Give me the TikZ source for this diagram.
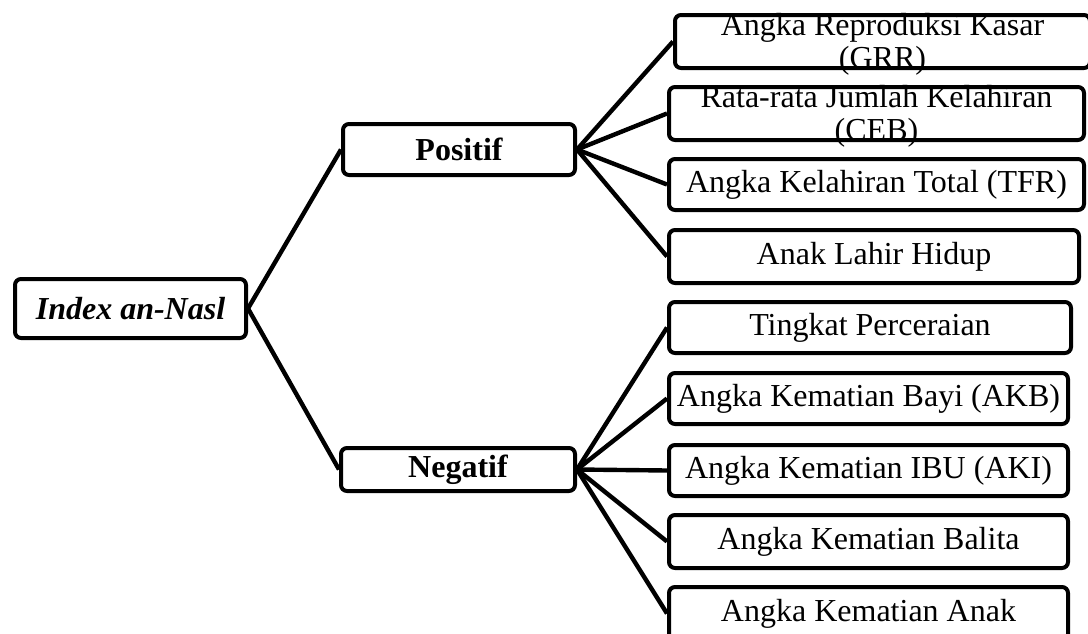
\documentclass[tikz,border=0pt]{standalone}
\usepackage{fontspec}
\setmainfont{Liberation Serif}
\begin{document}
\begin{tikzpicture}[x=0.5pt,y=-0.5pt,
  box/.style={draw, line width=2pt, rounded corners=3pt, inner sep=0pt,
    font=\fontsize{16}{16}\selectfont, align=center},
  lbl/.style={inner sep=0pt, font=\fontsize{16}{16.5}\selectfont, align=center},
  link/.style={line width=2.2pt}]
\useasboundingbox (0,0) rectangle (1088,633);

% root and the two branches
\node[box, minimum width=115.5pt, minimum height=29.5pt, font=\fontsize{16}{16}\selectfont\bfseries\itshape]
  (root) at (130.5,308.5) {Index an-Nasl};
\node[box, minimum width=116pt, minimum height=25.5pt, font=\fontsize{16}{16}\selectfont\bfseries]
  (pos) at (459,149.5) {Positif};
\node[box, minimum width=117pt, minimum height=21.5pt, font=\fontsize{16}{16}\selectfont\bfseries]
  (neg) at (458,469.5) {Negatif};

% positive indicators
\node[box, minimum width=207.5pt, minimum height=26.5pt] (grr) at (882.5,41.5) {};
\node[lbl] (grrtext) at ([yshift=-1.5pt]grr.center) {Angka Reproduksi Kasar\\(GRR)};
\node[box, minimum width=207.5pt, minimum height=26.5pt] (ceb) at (876.5,113.5) {};
\node[lbl] (cebtext) at ([yshift=-1.5pt]ceb.center) {Rata-rata Jumlah Kelahiran\\(CEB)};
\node[box, minimum width=207.5pt, minimum height=25.5pt] (tfr) at (876.5,184.5) {Angka Kelahiran Total (TFR)};
\node[box, minimum width=205pt, minimum height=26.5pt] (alh) at (874,256.5) {Anak Lahir Hidup};

% negative indicators
\node[box, minimum width=201pt, minimum height=25.5pt] (cerai) at (870,327.5) {Tingkat Perceraian};
\node[box, minimum width=199.5pt, minimum height=25.5pt] (akb) at (868.5,398.5) {Angka Kematian Bayi (AKB)};
\node[box, minimum width=199.5pt, minimum height=25.5pt] (aki) at (868.5,470.5) {Angka Kematian IBU (AKI)};
\node[box, minimum width=199.5pt, minimum height=26.5pt] (balita) at (868.5,541.5) {Angka Kematian Balita};
\node[box, minimum width=199.5pt, minimum height=26.5pt] (anak) at (868.5,613.5) {Angka Kematian Anak};

% connectors
\draw[link] (root.east) -- (pos.west);
\draw[link] (root.east) -- (neg.west);
\foreach \t in {grr,ceb,tfr,alh}
  \draw[link] (pos.east) -- (\t.west);
\foreach \t in {cerai,akb,aki,balita,anak}
  \draw[link] (neg.east) -- (\t.west);
\end{tikzpicture}
\end{document}
